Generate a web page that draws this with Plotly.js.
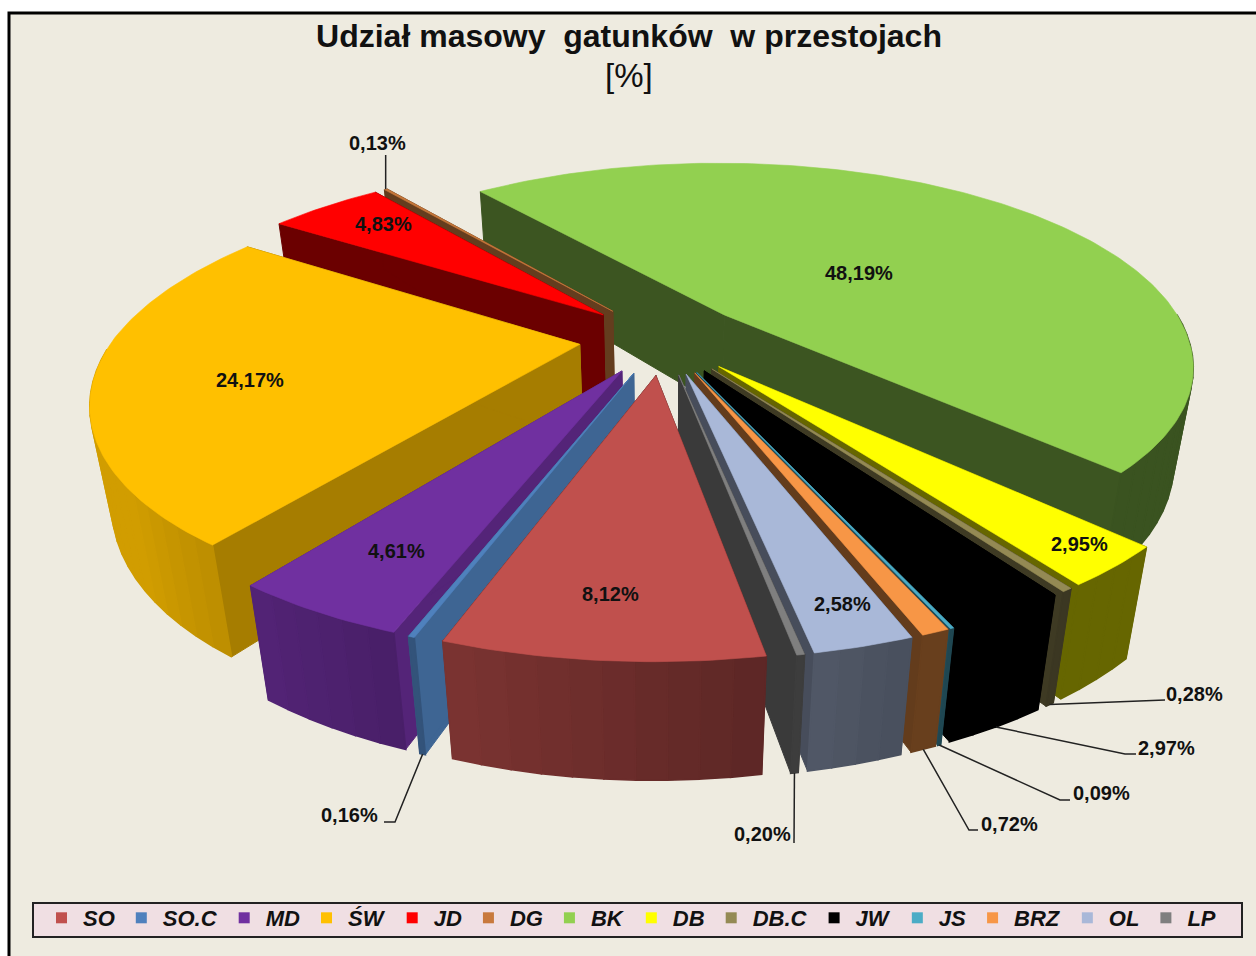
<!DOCTYPE html>
<html><head><meta charset="utf-8">
<script src="https://cdn.plot.ly/plotly-3.0.1.min.js"></script>
<style>html,body{margin:0;padding:0;background:#fff}#c{width:1256px;height:956px}</style>
</head><body><div id="c"></div>
<script>
const categories=['SO','SO.C','MD','ŚW','JD','DG','BK','DB','DB.C','JW','JS','BRZ','OL','LP'];
const shares=[8.12,0.16,4.61,24.17,4.83,0.13,48.19,2.95,0.28,2.97,0.09,0.72,2.58,0.20];
const colors=['#c0504d','#4f81bd','#7030a0','#ffc000','#ff0000','#c8793c','#92d050','#ffff00','#948a54','#000000','#4bacc6','#f79646','#a9b8d8','#7f7f7f'];
const faceShade=[0.45,0.78,0.75,0.65,0.42,0.5,0.41,0.4,0.42,1,0.45,0.4,0.42,0.46];
const paintOrder=[6,5,4,3,7,8,9,10,11,12,13,2,1,0];
const labelPos=[[610,594],[349,815],[396,551],[250,380],[383,224],[377,143],[859,273],[1079,544],[1194,694],[1166,748],[1101,793],[1009,824],[842,604],[762,834]];
const elbows={1:[[395,822],[384,822]],5:[[null,155]],8:[[1165,700]],9:[[1125,754],[1136,754]],10:[[1060,800],[1070,800]],11:[[969,830],[978,830]],13:[[794,843]]};
const startAngle=170;
const G={cx:663,cy:338,a:466,b:200,kx:0.2425,k:0.23,e:0.18,h0:95,h1:20,shrink:0.00038,backX:6,backY:3};

function rgb(hex,s){const n=parseInt(hex.slice(1),16);return `rgb(${Math.round((n>>16)*s)},${Math.round(((n>>8)&255)*s)},${Math.round((n&255)*s)})`;}
function rad(d){return d*Math.PI/180;}
function pTop(u,v){const b=Math.max(-v,0);return [G.cx+G.a*u/(1-G.kx*v)+G.backX*b,G.cy+G.b*v/(1-G.k*v)+G.backY*b];}
function pBot(u,v){const p=pTop(u,v),h=G.h0+G.h1*v;return [G.cx+(p[0]-G.cx)*(1-G.shrink*h),p[1]+h];}
const traces=[];
function poly(pts,col,w){traces.push({type:'scatter',mode:'lines',x:pts.map(p=>p[0]).concat(pts[0][0]),y:pts.map(p=>p[1]).concat(pts[0][1]),fill:'toself',fillcolor:col,line:{color:col,width:w||0.6},hoverinfo:'skip',showlegend:false});}
let cum=0;const arcs=shares.map(s=>{const a0=startAngle+cum*3.6;cum+=s;return [a0,startAngle+cum*3.6];});
function geom(i){
  const [a0,a1]=arcs[i],m=rad((a0+a1)/2);
  const ou=G.e*Math.sin(m),ov=-G.e*Math.cos(m);
  return {a0,a1,ou,ov,pt:t=>[ou+Math.sin(rad(t)),ov-Math.cos(rad(t))]};
}
function wallShade(t){let n=((t%360)+360)%360;const s=0.4+0.0055*(n-155);return Math.min(0.82,Math.max(0.4,s));}
paintOrder.forEach(i=>{
  const g=geom(i),c=colors[i];
  const pa=[g.ou,g.ov],p0=g.pt(g.a0),p1=g.pt(g.a1);
  const fs=rgb(c,faceShade[i]);
  poly([pTop(...pa),pTop(...p0),pBot(...p0),pBot(...pa)],fs,1);
  poly([pTop(...pa),pTop(...p1),pBot(...p1),pBot(...pa)],fs,1);
  const span=g.a1-g.a0,n=Math.max(1,Math.ceil(span/3));
  for(let j=0;j<n;j++){
    const t0=g.a0+span*j/n,t1=g.a0+span*(j+1)/n,A=g.pt(t0),B=g.pt(t1);
    if(Math.cos(rad((t0+t1)/2))>0) continue;
    poly([pTop(...A),pTop(...B),pBot(...B),pBot(...A)],rgb(c,wallShade((t0+t1)/2)),1.6);
  }
  const pts=[pTop(...pa)],m=Math.max(2,Math.ceil(span));
  for(let j=0;j<=m;j++){pts.push(pTop(...g.pt(g.a0+span*j/m)));}
  poly(pts,c);
});
categories.forEach((n,i)=>{
  const e=elbows[i];
  if(e){const g=geom(i),r=g.pt((g.a0+g.a1)/2),s=i===5?pTop(...r):pBot(...r);
    const line=[s].concat(e.map(p=>[p[0]===null?s[0]:p[0],p[1]]));
    traces.push({type:'scatter',mode:'lines',x:line.map(p=>p[0]),y:line.map(p=>p[1]),line:{color:'#222',width:1.5},hoverinfo:'skip',showlegend:false});}
});
categories.forEach((n,i)=>traces.push({type:'scatter',mode:'markers',x:[null],y:[null],name:n,marker:{symbol:'square',size:11,color:colors[i]},showlegend:true}));
const pct=v=>v.toFixed(2).replace('.',',')+'%';
const annotations=categories.map((n,i)=>({x:labelPos[i][0],y:labelPos[i][1],xref:'x',yref:'y',text:'<b>'+pct(shares[i])+'</b>',showarrow:false,font:{family:'Liberation Sans',size:20,color:'#111'}}));
annotations.push({x:629,y:75,xref:'x',yref:'y',text:'[%]',showarrow:false,font:{family:'Liberation Sans',size:33,color:'#111'}});
const layout={width:1256,height:956,margin:{l:0,r:0,t:0,b:0},paper_bgcolor:'#ffffff',plot_bgcolor:'rgba(0,0,0,0)',
 title:{text:'<b>Udział masowy\u00a0 gatunków\u00a0 w przestojach</b>',x:0.5008,xanchor:'center',y:0.9625,yanchor:'middle',font:{family:'Liberation Sans',size:32,color:'#111'}},
 xaxis:{range:[0,1256],visible:false,fixedrange:true},yaxis:{range:[956,0],visible:false,fixedrange:true},
 shapes:[{type:'rect',xref:'x',yref:'y',x0:9,y0:13,x1:1270,y1:970,fillcolor:'#eeebe0',line:{color:'#000',width:3},layer:'below'},
  {type:'rect',xref:'x',yref:'y',x0:33,y0:903,x1:1242,y1:937,fillcolor:'#f0dfe3',line:{color:'#222',width:2},layer:'below'}],
 annotations,
 legend:{orientation:'h',x:40/1256,y:1-897/956,xanchor:'left',yanchor:'top',bgcolor:'rgba(0,0,0,0)',borderwidth:0,itemwidth:33,font:{family:'Liberation Sans',size:22,color:'#111',weight:'bold',style:'italic'}}
};
Plotly.newPlot('c',traces,layout,{displayModeBar:false,staticPlot:true});
</script></body></html>
